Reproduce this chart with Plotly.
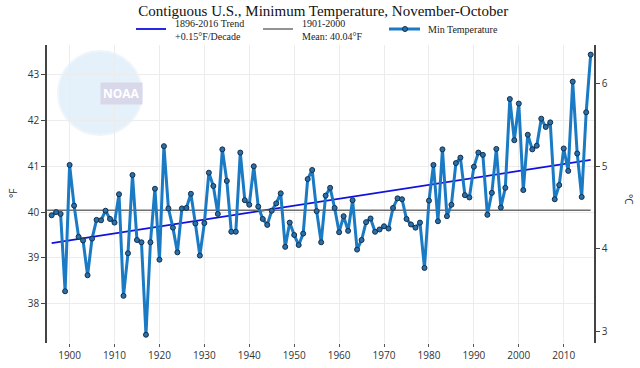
import plotly.graph_objects as go

years = list(range(1896, 2017))
min_temp = [
    39.93, 40.00, 39.96, 38.27, 41.03, 40.14, 39.46, 39.38, 38.62, 39.42,  # 1896-1905
    39.83, 39.82, 40.03, 39.85, 39.77, 40.39, 38.17, 39.10, 40.81, 39.39,  # 1906-1915
    39.34, 37.32, 39.34, 40.51, 38.96, 41.44, 40.08, 39.66, 39.12, 40.08,  # 1916-1925
    40.09, 40.40, 39.75, 39.05, 39.76, 40.86, 40.57, 39.96, 41.37, 40.68,  # 1926-1935
    39.57, 39.57, 41.30, 40.26, 40.16, 41.00, 40.12, 39.85, 39.72, 40.03,  # 1936-1945
    40.19, 40.41, 39.24, 39.77, 39.50, 39.28, 39.53, 40.72, 40.92, 40.02,  # 1946-1955
    39.34, 40.36, 40.53, 40.09, 39.56, 39.91, 39.59, 40.26, 39.18, 39.39,  # 1956-1965
    39.78, 39.86, 39.57, 39.62, 39.69, 39.64, 40.09, 40.30, 40.28, 39.85,  # 1966-1975
    39.73, 39.66, 39.77, 38.78, 40.25, 41.03, 39.80, 41.37, 39.91, 40.16,  # 1976-1985
    41.07, 41.19, 40.37, 40.32, 40.99, 41.30, 41.25, 39.94, 40.42, 41.38,  # 1986-1995
    40.10, 40.53, 42.47, 41.57, 42.37, 40.48, 41.69, 41.37, 41.45, 42.04,  # 1996-2005
    41.86, 41.96, 40.28, 40.59, 41.39, 40.90, 42.85, 41.28, 40.33, 42.18,  # 2006-2015
    43.44,                                                                 # 2016
]
trend_years = [1896, 2016]
trend_vals = [39.32, 41.14]
mean_years = [1895, 2016]
mean_vals = [40.04, 40.04]

x_ticks = list(range(1900, 2011, 10))
f_ticks = [38, 39, 40, 41, 42, 43]
c_ticks = [3, 4, 5, 6]

legend_labels = ["1896-2016 Trend<br>+0.15°F/Decade", "1901-2000<br>Mean: 40.04°F", "Min Temperature"]

y_range_f = [37.14, 43.65]
y_range_c = [(v - 32) / 1.8 for v in y_range_f]

serif = "Liberation Serif, Times New Roman, serif"
sans = "Open Sans, DejaVu Sans, sans-serif"

# plot area in pixels
L, R, T, B = 47, 594, 45, 343
W, H = R - L, B - T


def px(x):
    return (x - L) / W


def py(y):
    return (B - y) / H


trend_color = "#1010e0"
mean_color = "#6e6e6e"
data_color = "#1a7ac4"
marker_fill = "#2a6fa8"
marker_edge = "#13304d"

fig = go.Figure()

fig.add_trace(go.Scatter(
    x=trend_years, y=trend_vals, mode="lines", name=legend_labels[0],
    line=dict(color=trend_color, width=1.8), showlegend=False,
))
fig.add_trace(go.Scatter(
    x=mean_years, y=mean_vals, mode="lines", name=legend_labels[1],
    line=dict(color=mean_color, width=1.5), showlegend=False,
))
fig.add_trace(go.Scatter(
    x=years, y=min_temp, mode="lines+markers", name=legend_labels[2],
    line=dict(color=data_color, width=3),
    marker=dict(size=5, color=marker_fill, line=dict(color=marker_edge, width=1)),
    showlegend=False,
))
# invisible trace for right axis
fig.add_trace(go.Scatter(
    x=[years[0]], y=[(min_temp[0] - 32) / 1.8], yaxis="y2",
    mode="markers", marker=dict(opacity=0), showlegend=False, hoverinfo="skip",
))

# faint logo watermark
fig.add_shape(type="circle", xref="paper", yref="paper",
              x0=px(58), x1=px(142), y0=py(135), y1=py(51),
              fillcolor="#e4f1fa", line=dict(color="#eef5fb", width=2), layer="below")
fig.add_annotation(xref="paper", yref="paper", x=px(100), y=py(82),
                   text="<b>NOAA</b>", showarrow=False,
                   font=dict(family=sans, size=12, color="#ffffff"),
                   bgcolor="#d9d7ea", borderpad=2)

# manual legend
leg_y = 29
fig.add_shape(type="line", xref="paper", yref="paper", x0=px(136), x1=px(166),
              y0=py(leg_y), y1=py(leg_y), line=dict(color=trend_color, width=1.8))
fig.add_shape(type="line", xref="paper", yref="paper", x0=px(263), x1=px(293),
              y0=py(leg_y), y1=py(leg_y), line=dict(color=mean_color, width=1.5))
fig.add_shape(type="line", xref="paper", yref="paper", x0=px(389), x1=px(420),
              y0=py(leg_y), y1=py(leg_y), line=dict(color=data_color, width=3))
fig.add_shape(type="circle", xref="paper", yref="paper",
              x0=px(402.5), x1=px(407.5), y0=py(leg_y + 2.5), y1=py(leg_y - 2.5),
              fillcolor=marker_fill, line=dict(color=marker_edge, width=1))
for xx, txt, yy in [(173, legend_labels[0], 30), (300, legend_labels[1], 30), (426, legend_labels[2], 30)]:
    fig.add_annotation(xref="paper", yref="paper", x=px(xx), y=py(yy), text=txt,
                       showarrow=False, xanchor="left", yanchor="middle", align="left",
                       font=dict(family=serif, size=10, color="#222"))

# axis titles
fig.add_annotation(xref="paper", yref="paper", x=px(13), y=py(194), text="°F",
                   showarrow=False, textangle=-90, xanchor="center", yanchor="middle",
                   font=dict(family=sans, size=10, color="#333"))
fig.add_annotation(xref="paper", yref="paper", x=px(629), y=py(200), text="°C",
                   showarrow=False, textangle=90, xanchor="center", yanchor="middle",
                   font=dict(family=sans, size=10, color="#333"))

fig.update_layout(
    width=640, height=368,
    margin=dict(l=L, r=640 - R, t=T, b=368 - B),
    paper_bgcolor="white", plot_bgcolor="white",
    showlegend=False,
    title=dict(text="Contiguous U.S., Minimum Temperature, November-October",
               x=0.505, xanchor="center", y=1 - 11 / 368, yanchor="middle",
               font=dict(family=serif, size=15, color="#111")),
    xaxis=dict(range=[1894.97, 2016.74], tickvals=x_ticks, showgrid=True, automargin=False,
               gridcolor="#ececec", gridwidth=1, zeroline=False, showline=False,
               ticks="outside", ticklen=3, tickcolor="#555",
               tickfont=dict(family=sans, size=10, color="#333")),
    yaxis=dict(range=y_range_f, tickvals=f_ticks, showgrid=True, gridcolor="#ececec",
               automargin=False, zeroline=False, showline=True, linecolor="#444",
               linewidth=1.5, ticks="outside", ticklen=4, tickcolor="#444",
               tickfont=dict(family=sans, size=10, color="#333")),
    yaxis2=dict(range=y_range_c, tickvals=c_ticks, overlaying="y", side="right",
                automargin=False, showgrid=False, zeroline=False, showline=True,
                linecolor="#444", linewidth=1.5, ticks="outside", ticklen=4, tickcolor="#444",
                tickfont=dict(family=sans, size=10, color="#333")),
)

fig.write_html("out.html", config={"displayModeBar": False},
               post_script="document.body.style.margin='0';")
